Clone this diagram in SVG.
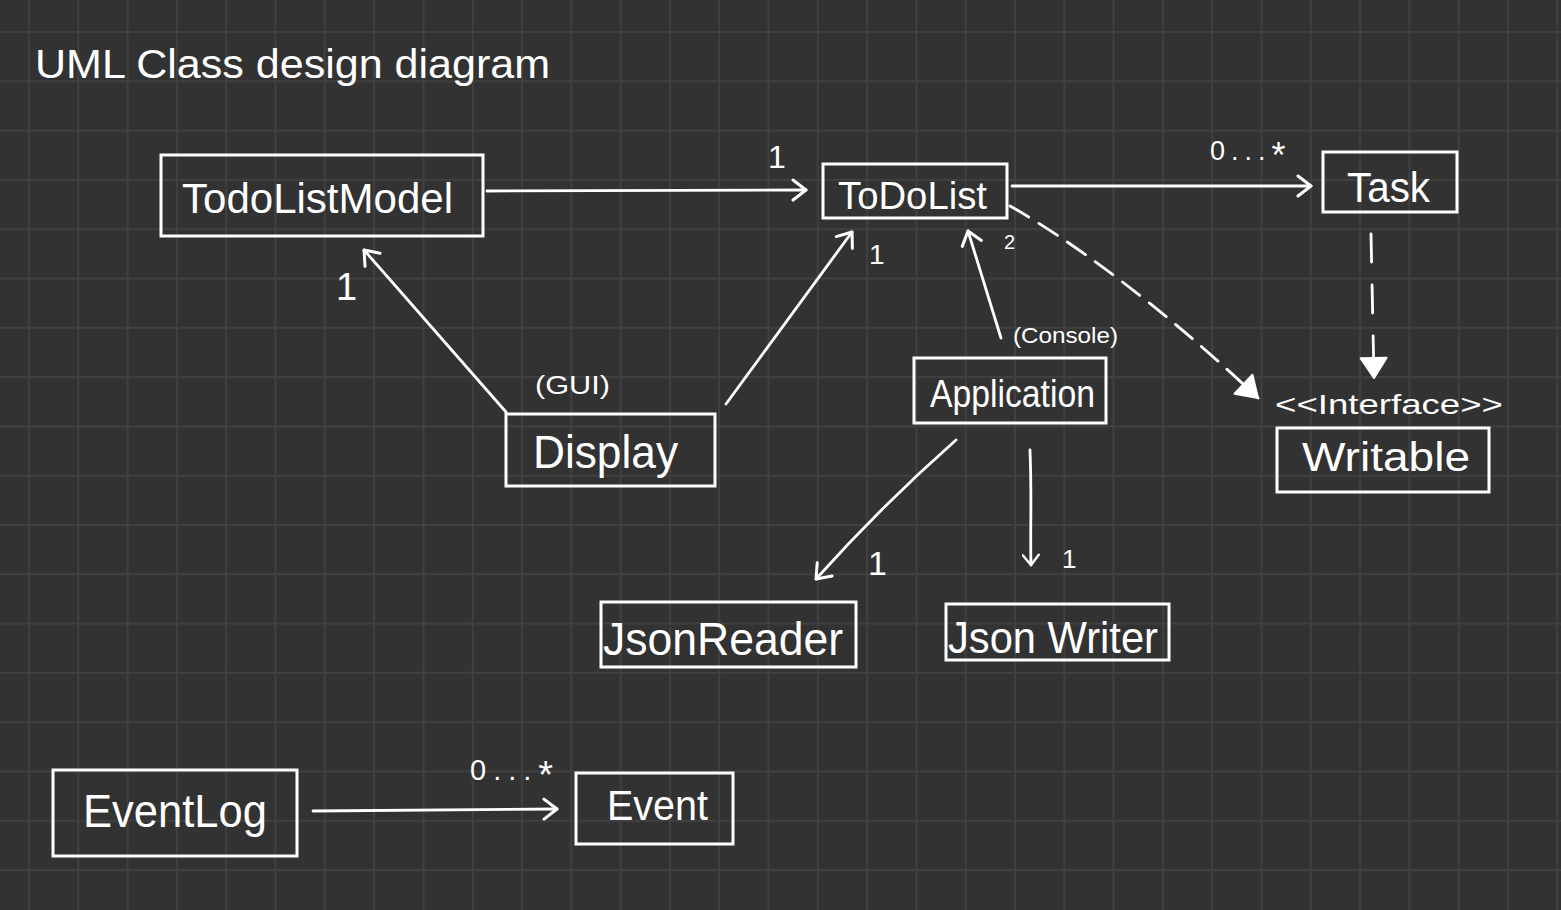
<svg xmlns="http://www.w3.org/2000/svg" width="1561" height="910" viewBox="0 0 1561 910">
<style>
.bg{fill:#323232}
.box{fill:none;stroke:#ffffff;stroke-width:3}
.t{font-family:"Liberation Sans","Open Sans",sans-serif;fill:#ffffff}
.c{fill:none;stroke:#ffffff;stroke-width:2.8;stroke-linecap:round}
.d{stroke-dasharray:22 12}
</style>
<defs>
<pattern id="grid" x="28" y="31" width="49.3" height="49.3" patternUnits="userSpaceOnUse">
<rect x="0" y="0" width="2" height="49.3" fill="#404040"/>
<rect x="0" y="0" width="49.3" height="2" fill="#404040"/>
</pattern>
<marker id="open" viewBox="-16 -12 19 24" refX="0" refY="0" markerWidth="19" markerHeight="24" markerUnits="userSpaceOnUse" orient="auto">
<path d="M-13,-10 L0,0 L-13,10" fill="none" stroke="#ffffff" stroke-width="3" stroke-linecap="round" stroke-linejoin="round"/>
</marker>
<marker id="openS" viewBox="-12 -9 14 18" refX="0" refY="0" markerWidth="14" markerHeight="18" markerUnits="userSpaceOnUse" orient="auto">
<path d="M-10,-8 L0,0 L-10,8" fill="none" stroke="#ffffff" stroke-width="2.5" stroke-linecap="round" stroke-linejoin="round"/>
</marker>
<marker id="tri" viewBox="-22 -15 24 30" refX="0" refY="0" markerWidth="24" markerHeight="30" markerUnits="userSpaceOnUse" orient="auto">
<path d="M-20,-13 L0,0 L-20,13 Z" fill="#ffffff" stroke="#ffffff" stroke-width="2" stroke-linejoin="round"/>
</marker>
</defs>
<rect class="bg" x="0" y="0" width="1561" height="910"/>
<rect x="0" y="0" width="1561" height="910" fill="url(#grid)"/>

<text class="t" x="35" y="78" font-size="40" textLength="515" lengthAdjust="spacingAndGlyphs">UML Class design diagram</text>

<g id="connectors">
<path class="c" d="M487,191 L806,190" marker-end="url(#open)"/>
<path class="c" d="M1012,186 L1311,186" marker-end="url(#open)"/>
<path class="c" d="M506,412 L364,250" marker-end="url(#open)"/>
<path class="c" d="M726,404 L852,232" marker-end="url(#open)"/>
<path class="c" d="M1001,338 L968,231" marker-end="url(#open)"/>
<path class="c" d="M956,440 C905,485 860,530 816,579" marker-end="url(#open)"/>
<path class="c" d="M1030,450 C1032,500 1030,530 1031,565" marker-end="url(#openS)"/>
<path class="c" d="M1371,234 L1374,378" stroke-dasharray="28 23" marker-end="url(#tri)"/>
<path class="c d" d="M1010,206 C1070,240 1160,305 1258,398" marker-end="url(#tri)"/>
<path class="c" d="M313,811 L557,809" marker-end="url(#open)"/>
<text class="t" x="768" y="168" font-size="32">1</text>
<text class="t" x="1210" y="160" font-size="27" letter-spacing="6">0...<tspan font-size="36" dy="8">*</tspan></text>
<text class="t" x="336" y="300" font-size="38">1</text>
<text class="t" x="869" y="264" font-size="28">1</text>
<text class="t" x="1004" y="249" font-size="20">2</text>
<text class="t" x="1013" y="343" font-size="22" textLength="105" lengthAdjust="spacingAndGlyphs">(Console)</text>
<text class="t" x="535" y="394" font-size="26" textLength="75" lengthAdjust="spacingAndGlyphs">(GUI)</text>
<text class="t" x="868" y="575" font-size="34">1</text>
<text class="t" x="1062" y="568" font-size="26">1</text>
<text class="t" x="470" y="780" font-size="29" letter-spacing="7">0...<tspan font-size="38" dy="8">*</tspan></text>
</g>

<g id="TodoListModel">
<rect class="box" x="161" y="155" width="322" height="81"/>
<text class="t" x="182" y="213" font-size="42" textLength="271" lengthAdjust="spacingAndGlyphs">TodoListModel</text>
</g>
<g id="ToDoList">
<rect class="box" x="823" y="164" width="184" height="54"/>
<text class="t" x="838" y="209" font-size="38" textLength="149" lengthAdjust="spacingAndGlyphs">ToDoList</text>
</g>
<g id="Task">
<rect class="box" x="1323" y="152" width="134" height="60"/>
<text class="t" x="1347" y="202" font-size="42" textLength="83" lengthAdjust="spacingAndGlyphs">Task</text>
</g>
<g id="Display">
<rect class="box" x="506" y="414" width="209" height="72"/>
<text class="t" x="533" y="468" font-size="46" textLength="145" lengthAdjust="spacingAndGlyphs">Display</text>
</g>
<g id="Application">
<rect class="box" x="914" y="358" width="192" height="65"/>
<text class="t" x="930" y="407" font-size="38" textLength="165" lengthAdjust="spacingAndGlyphs">Application</text>
</g>
<g id="Writable">
<text class="t" x="1275" y="414" font-size="28" textLength="228" lengthAdjust="spacingAndGlyphs">&lt;&lt;Interface&gt;&gt;</text>
<rect class="box" x="1277" y="428" width="212" height="64"/>
<text class="t" x="1302" y="471" font-size="40" textLength="168" lengthAdjust="spacingAndGlyphs">Writable</text>
</g>
<g id="JsonReader">
<rect class="box" x="601" y="602" width="255" height="65"/>
<text class="t" x="603" y="655" font-size="46" textLength="240" lengthAdjust="spacingAndGlyphs">JsonReader</text>
</g>
<g id="JsonWriter">
<rect class="box" x="946" y="604" width="223" height="56"/>
<text class="t" x="948" y="653" font-size="44" textLength="210" lengthAdjust="spacingAndGlyphs">Json Writer</text>
</g>
<g id="EventLog">
<rect class="box" x="53" y="770" width="244" height="86"/>
<text class="t" x="83" y="827" font-size="46" textLength="184" lengthAdjust="spacingAndGlyphs">EventLog</text>
</g>
<g id="Event">
<rect class="box" x="576" y="773" width="157" height="71"/>
<text class="t" x="607" y="820" font-size="42" textLength="101" lengthAdjust="spacingAndGlyphs">Event</text>
</g>
</svg>
